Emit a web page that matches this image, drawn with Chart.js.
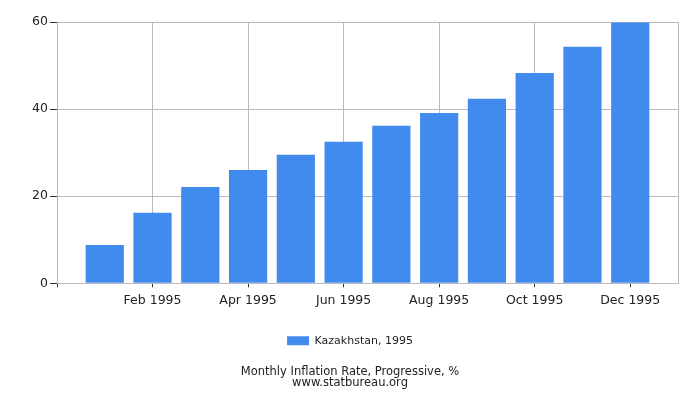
<!DOCTYPE html>
<html lang="en">
<head>
    <meta charset="UTF-8">
    <title>Kazakhstan Monthly Inflation Rate, Progressive, 1995</title>
    <script src="https://cdn.jsdelivr.net/npm/chart.js"></script>
    <style>
        html, body { margin: 0; padding: 0; background: #fff; }
        #wrap { width: 700px; height: 400px; }
    </style>
</head>
<body>
    <div id="wrap"><canvas id="inflationChart" width="700" height="400"></canvas></div>

    <script>
        // data
        const months = ["Jan 1995", "Feb 1995", "Mar 1995", "Apr 1995", "May 1995", "Jun 1995",
                        "Jul 1995", "Aug 1995", "Sep 1995", "Oct 1995", "Nov 1995", "Dec 1995"];
        const values = [8.8, 16.2, 22.1, 26.0, 29.5, 32.5, 36.2, 39.1, 42.4, 48.3, 54.3, 59.9];
        const xTickMonths = [2, 4, 6, 8, 10, 12];   // month numbers that get a label
        const yTicks = [0, 20, 40, 60];
        const seriesLabel = "Kazakhstan, 1995";
        const titleLines = ["Monthly Inflation Rate, Progressive, %", "www.statbureau.org"];

        const font = "'DejaVu Sans', Verdana, sans-serif";
        const barColor = "#418bef";
        const gridColor = "#bbbbbb";

        // months sit at 1..12 on a 0..13 linear axis
        const points = values.map((v, i) => ({ x: i + 1, y: v }));

        const ctx = document.getElementById("inflationChart").getContext("2d");
        new Chart(ctx, {
            type: "bar",
            data: {
                datasets: [{
                    label: seriesLabel,
                    data: points,
                    backgroundColor: barColor,
                    borderWidth: 0,
                    barPercentage: 0.8,
                    categoryPercentage: 1.0
                }]
            },
            options: {
                responsive: false,
                animation: false,
                layout: { padding: { top: 22, right: 0, bottom: 12, left: 0 } },
                scales: {
                    x: {
                        type: "linear",
                        offset: false,
                        min: 0,
                        max: months.length + 1,
                        afterBuildTicks: scale => {
                            scale.ticks = [0, ...xTickMonths].map(v => ({ value: v }));
                        },
                        afterFit: scale => { scale.height = 42; },
                        ticks: {
                            autoSkip: false,
                            maxRotation: 0,
                            padding: 6,
                            color: "#222",
                            font: { family: font, size: 12.5 },
                            callback: value => (value >= 1 && value <= months.length) ? months[value - 1] : ""
                        },
                        grid: { offset: false, color: gridColor, tickLength: 4, tickColor: "#333" },
                        border: { color: gridColor }
                    },
                    y: {
                        min: 0,
                        max: 60,
                        afterBuildTicks: scale => {
                            scale.ticks = yTicks.map(v => ({ value: v }));
                        },
                        afterFit: scale => { scale.width = 57; },
                        ticks: {
                            padding: 2,
                            color: "#222",
                            font: { family: font, size: 12.5 }
                        },
                        grid: { color: gridColor, tickLength: 7, tickColor: "#333" },
                        border: { color: gridColor }
                    },
                    // empty right axis: gives the right frame line and the right margin
                    yRight: {
                        position: "right",
                        min: 0,
                        max: 60,
                        afterFit: scale => { scale.width = 22; },
                        ticks: { display: false },
                        grid: { display: false },
                        border: { display: true, color: gridColor }
                    }
                },
                plugins: {
                    legend: {
                        position: "bottom",
                        labels: {
                            boxWidth: 22,
                            boxHeight: 9,
                            padding: 10,
                            color: "#222",
                            font: { family: font, size: 11 }
                        }
                    },
                    title: {
                        display: true,
                        position: "bottom",
                        text: titleLines,
                        color: "#222",
                        padding: { top: 11, bottom: 0 },
                        font: { family: font, size: 11.5, weight: "normal", lineHeight: 0.9 }
                    },
                    tooltip: { enabled: false }
                }
            }
        });
    </script>
</body>
</html>
